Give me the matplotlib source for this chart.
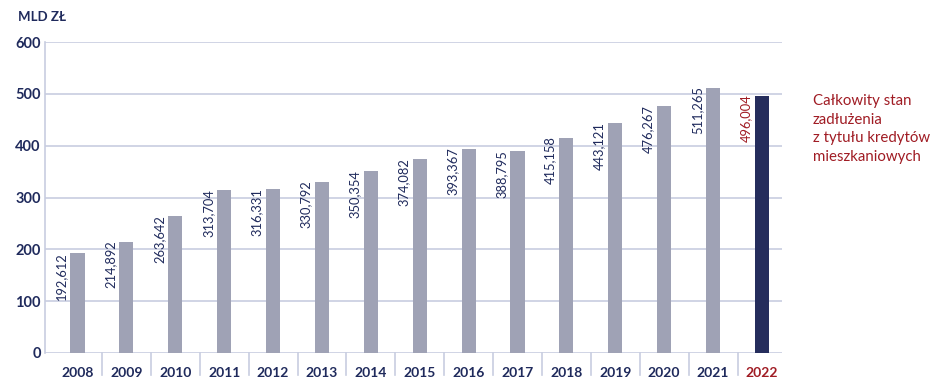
import matplotlib.pyplot as plt
import numpy as np

years = ['2008', '2009', '2010', '2011', '2012', '2013', '2014', '2015',
         '2016', '2017', '2018', '2019', '2020', '2021', '2022']
values = [192.612, 214.892, 263.642, 313.704, 316.331, 330.792, 350.354, 374.082,
          393.367, 388.795, 415.158, 443.121, 476.267, 511.265, 496.004]
yticks = [0, 100, 200, 300, 400, 500, 600]
note = 'Całkowity stan\nzadłużenia\nz tytułu kredytów\nmieszkaniowych'

navy = '#1f2a5c'
grey = '#9fa2b5'
dark = '#252d5c'
red = '#a01c24'
grid = '#c8cde0'

plt.rcParams['font.family'] = ['Lato', 'DejaVu Sans']

fig = plt.figure(figsize=(9.48, 3.83), dpi=100)
ax = fig.add_axes([45 / 948, 1 - 353 / 383, 737 / 948, 311 / 383])

x = np.arange(len(years))
colors = [grey] * (len(years) - 1) + [dark]
ax.bar(x, values, width=0.29, color=colors, zorder=3)

for i, v in enumerate(values):
    c = red if i == len(values) - 1 else navy
    ax.annotate(f'{v:.3f}'.replace('.', ','), (x[i], v), xytext=(-11.5, 1),
                textcoords='offset points', rotation=90, ha='center', va='top',
                fontsize=9.3, color=c)

ax.set_xlim(-0.665, 14.41)
ax.set_ylim(0, 600)
ax.set_yticks(yticks)
ax.yaxis.grid(True, color=grid, linewidth=1.2, zorder=0)
for s in ['top', 'right', 'bottom']:
    ax.spines[s].set_visible(False)
ax.spines['left'].set_color(grid)
ax.spines['left'].set_linewidth(1.2)
ax.tick_params(axis='y', length=0, pad=3, labelsize=10.5, labelcolor=navy)
for lab in ax.get_yticklabels():
    lab.set_fontweight('bold')

ax.set_xticks([])
trans = ax.get_xaxis_transform()
for i, y in enumerate(years):
    c = red if i == len(years) - 1 else navy
    ax.text(x[i], -0.045, y, transform=trans, ha='center', va='top',
            fontsize=10, color=c, fontweight='bold')
for i in range(len(years) - 1):
    ax.plot([i + 0.5, i + 0.5], [0, -0.07], transform=trans, color=grid,
            linewidth=1.2, clip_on=False)

fig.text(18 / 948, 1 - 17 / 383, 'MLD ZŁ', ha='left', va='center',
         fontsize=9.5, color=navy, fontweight='bold')
fig.text(813 / 948, 1 - 94 / 383, note, ha='left', va='top',
         fontsize=10.8, color=red, linespacing=1.42)

fig.savefig('out.png', dpi=100)
